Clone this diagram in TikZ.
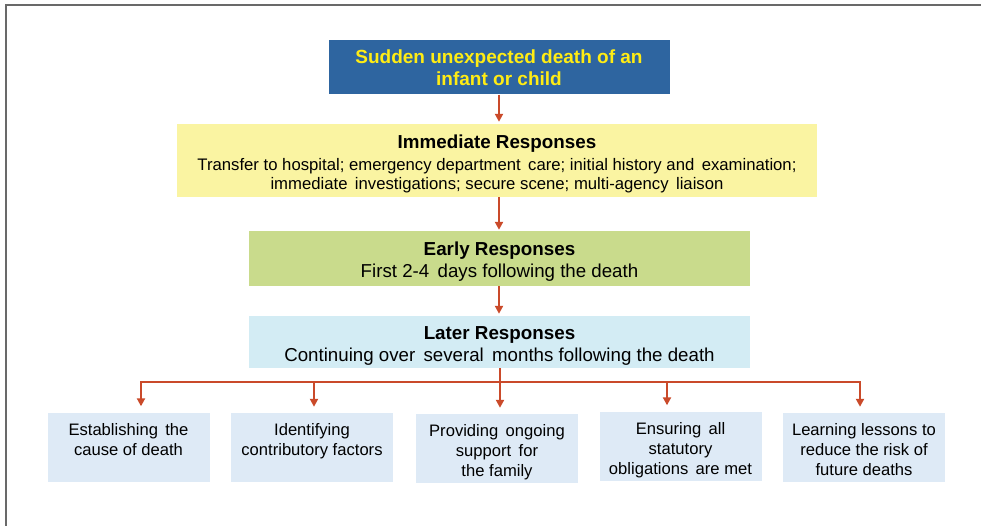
\documentclass[tikz,border=0pt]{standalone}
\usepackage{fontspec}
\setmainfont{Liberation Sans}
\usetikzlibrary{calc, arrows.meta, positioning}

\definecolor{deathblue}{RGB}{46,101,160}
\definecolor{deathyellow}{RGB}{255,236,20}
\definecolor{immyellow}{RGB}{250,244,162}
\definecolor{earlygreen}{RGB}{201,219,140}
\definecolor{laterblue}{RGB}{211,236,244}
\definecolor{leafblue}{RGB}{222,234,246}
\definecolor{flowred}{RGB}{202,74,42}
\definecolor{framegray}{RGB}{105,105,105}

\newcommand{\leaftext}[1]{\parbox[t][48pt][t]{160pt}{\centering #1}}
\newcommand{\stagetitle}[1]{{\rule{0pt}{20pt}\bfseries\fontsize{18.8}{22}\selectfont #1}}

\tikzset{
	stage/.style={inner sep=0pt, align=center, text=black},
	tip/.tip={Triangle[width=8pt,length=8pt]},
	flow/.style={-tip, draw=flowred, line width=2pt},
	wire/.style={draw=flowred, line width=2pt},
	leaf/.style={fill=leafblue, minimum width=162pt, minimum height=69pt, inner sep=0pt, text=black, font=\fontsize{16.6}{20}\selectfont},
}

\begin{document}
\begin{tikzpicture}[x=1pt, y=-1pt]
	\useasboundingbox (0,0) rectangle (981,526);
	\draw[framegray, line width=1.5pt] (6,526) -- (6,5) -- (981,5);

	% response stages
	\node[stage, fill=deathblue, minimum width=341pt, minimum height=54pt, text=deathyellow, font=\bfseries\fontsize{19}{22}\selectfont] (death) at (499,67.5) {Sudden unexpected death of an\\infant or child};
	\node[stage, fill=immyellow, minimum width=640pt, minimum height=73pt, font=\fontsize{16.7}{19}\selectfont] (immediate) at (497,160.5)
		{\stagetitle{Immediate Responses}\\[3pt]
		 Transfer to hospital; emergency department\, care; initial history and\, examination;\\
		 immediate\, investigations; secure scene; multi-agency\, liaison};
	\node[stage, fill=earlygreen, minimum width=501pt, minimum height=55pt, font=\fontsize{18.7}{22}\selectfont] (early) at (499.5,258.5)
		{\stagetitle{Early Responses}\\
		 First 2-4\, days following the death};
	\node[stage, fill=laterblue, minimum width=501pt, minimum height=52pt, font=\fontsize{18.7}{22}\selectfont] (later) at (499.5,342)
		{\stagetitle{Later Responses}\\
		 Continuing over\, several\, months following the death};

	% tasks
	\node[leaf] (b1) at (128.5,447) {\leaftext{Establishing\, the\\cause of death}};
	\node[leaf] (b2) at (312,447.5) {\leaftext{Identifying\\contributory factors}};
	\node[leaf] (b3) at (497,448.5) {\leaftext{Providing\, ongoing\\support\, for\\the family}};
	\node[leaf] (b4) at (680.5,446) {\leaftext{Ensuring\, all\\statutory\\obligations\, are met}};
	\node[leaf] (b5) at (864,447.5) {\leaftext{Learning lessons to\\reduce the risk of\\future deaths}};

	\draw[flow, shorten >=2pt] (death) -- (immediate.north -| death);
	\draw[flow, shorten >=1pt] (immediate.south -| death) -- (early.north -| death);
	\draw[flow, shorten >=2pt] (early.south -| death) -- (later.north -| death);

	\coordinate (hub1) at (141,382);
	\coordinate (hub2) at (314,382);
	\coordinate (hub3) at (500,382);
	\coordinate (hub4) at (667,382);
	\coordinate (hub5) at (860,382);
	\draw[wire] (later.south -| hub3) -- (hub3);
	\draw[flow, tip-tip, shorten <=6pt, shorten >=6pt] (hub1 |- b1.north) -- (hub1) -- (hub5) -- (hub5 |- b5.north);
	\foreach \i in {2,3,4}
		\draw[flow, shorten >=6pt] (hub\i) -- (hub\i |- b\i.north);
\end{tikzpicture}
\end{document}
